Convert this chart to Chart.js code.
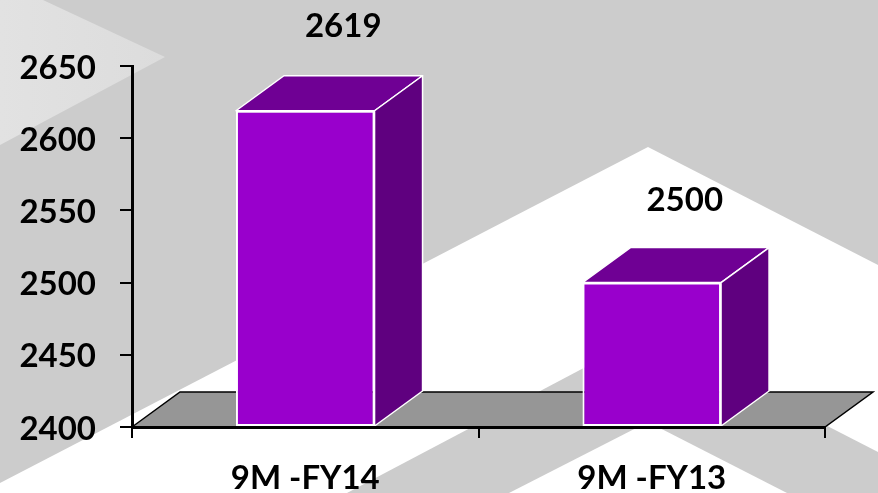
<!DOCTYPE html>
<html>
<head>
<meta charset="utf-8">
<style>
  html, body { margin: 0; padding: 0; background: #cccccc; overflow: hidden; }
  #wrap { position: relative; width: 878px; height: 493px; }
  #bg, #chart { position: absolute; left: 0; top: 0; }
</style>
</head>
<body>
<div id="wrap">
  <!-- slide background behind the chart -->
  <svg id="bg" width="878" height="493">
    <defs>
      <linearGradient id="light" x1="0" y1="0" x2="1" y2="0">
        <stop offset="0" stop-color="#e2e2e2"/>
        <stop offset="1" stop-color="#dcdcdc"/>
      </linearGradient>
    </defs>
    <rect width="878" height="493" fill="#cccccc"/>
    <polygon points="0,0 43,0 165,57 0,145" fill="url(#light)"/>
    <polygon points="648,147 878,265 878,493 0,493 0,483" fill="#ffffff"/>
    <polygon points="648,334 878,452 878,493 347,493" fill="#cccccc"/>
    <polygon points="648,422 787,493 509,493" fill="#ffffff"/>
  </svg>
  <canvas id="chart" width="878" height="493"></canvas>
</div>
<script src="https://cdn.jsdelivr.net/npm/chart.js@4"></script>
<script>
const categories = ['9M -FY14', '9M -FY13'];
const values = [2619, 2500];
const yTicks = [2400, 2450, 2500, 2550, 2600, 2650];

const depthX = 48;
const depthY = 35;
const labelShiftX = [38, 33];
const labelShiftY = [84, 82];
const font = { family: 'Lato', size: 33, weight: 'bold' };

// floor of the fake 3D box, under the bars
const floorPlugin = {
  id: 'floor',
  beforeDatasetsDraw(chart) {
    const { ctx, chartArea: a } = chart;
    ctx.save();
    ctx.beginPath();
    ctx.moveTo(a.left, a.bottom);
    ctx.lineTo(a.left + depthX, a.bottom - depthY);
    ctx.lineTo(a.right + depthX, a.bottom - depthY);
    ctx.lineTo(a.right, a.bottom);
    ctx.closePath();
    ctx.fillStyle = '#969696';
    ctx.fill();
    ctx.strokeStyle = '#000000';
    ctx.lineWidth = 1.5;
    ctx.stroke();
    ctx.restore();
  }
};

// top and side faces plus the value labels
const cubePlugin = {
  id: 'cube',
  afterDatasetsDraw(chart) {
    const { ctx } = chart;
    const bars = chart.getDatasetMeta(0).data;
    ctx.save();
    bars.forEach((bar, i) => {
      const left = bar.x - bar.width / 2;
      const right = bar.x + bar.width / 2;
      const top = bar.y;
      const bottom = bar.base;
      ctx.strokeStyle = '#ffffff';
      ctx.lineWidth = 1.5;
      ctx.lineJoin = 'round';

      ctx.beginPath();
      ctx.moveTo(left, top);
      ctx.lineTo(left + depthX, top - depthY);
      ctx.lineTo(right + depthX, top - depthY);
      ctx.lineTo(right, top);
      ctx.closePath();
      ctx.fillStyle = '#6f0094';
      ctx.fill();
      ctx.stroke();

      ctx.beginPath();
      ctx.moveTo(right, top);
      ctx.lineTo(right + depthX, top - depthY);
      ctx.lineTo(right + depthX, bottom - depthY);
      ctx.lineTo(right, bottom);
      ctx.closePath();
      ctx.fillStyle = '#5f007f';
      ctx.fill();
      ctx.stroke();

      ctx.fillStyle = '#000000';
      ctx.font = `${font.weight} ${font.size}px ${font.family}`;
      ctx.textAlign = 'center';
      ctx.textBaseline = 'middle';
      ctx.fillText(String(values[i]), bar.x + labelShiftX[i], top - labelShiftY[i]);
    });
    ctx.restore();
  }
};

new Chart(document.getElementById('chart').getContext('2d'), {
  type: 'bar',
  data: {
    labels: categories,
    datasets: [{
      data: values,
      base: yTicks[0],
      backgroundColor: '#9900cc',
      borderColor: '#ffffff',
      borderWidth: 2,
      borderSkipped: false,
      barPercentage: 0.4,
      categoryPercentage: 1
    }]
  },
  options: {
    responsive: false,
    animation: false,
    layout: { padding: { top: 66, right: 53 } },
    plugins: { legend: { display: false }, tooltip: { enabled: false } },
    scales: {
      x: {
        afterFit(axis) { axis.height = 66; },
        grid: { drawOnChartArea: false, color: '#000000', lineWidth: 2, tickLength: 11 },
        border: { color: '#000000', width: 3, z: 1 },
        ticks: { color: '#000000', font, padding: 21, maxRotation: 0 }
      },
      y: {
        min: 2400,
        max: 2650,
        afterFit(axis) { axis.width = 132; },
        afterBuildTicks(axis) { axis.ticks = yTicks.map(v => ({ value: v })); },
        grid: { drawOnChartArea: false, color: '#000000', lineWidth: 2, tickLength: 12 },
        border: { color: '#000000', width: 3 },
        ticks: { color: '#000000', font, padding: 24, labelOffset: 2, callback: v => String(v) }
      }
    }
  },
  plugins: [floorPlugin, cubePlugin]
});
</script>
</body>
</html>
